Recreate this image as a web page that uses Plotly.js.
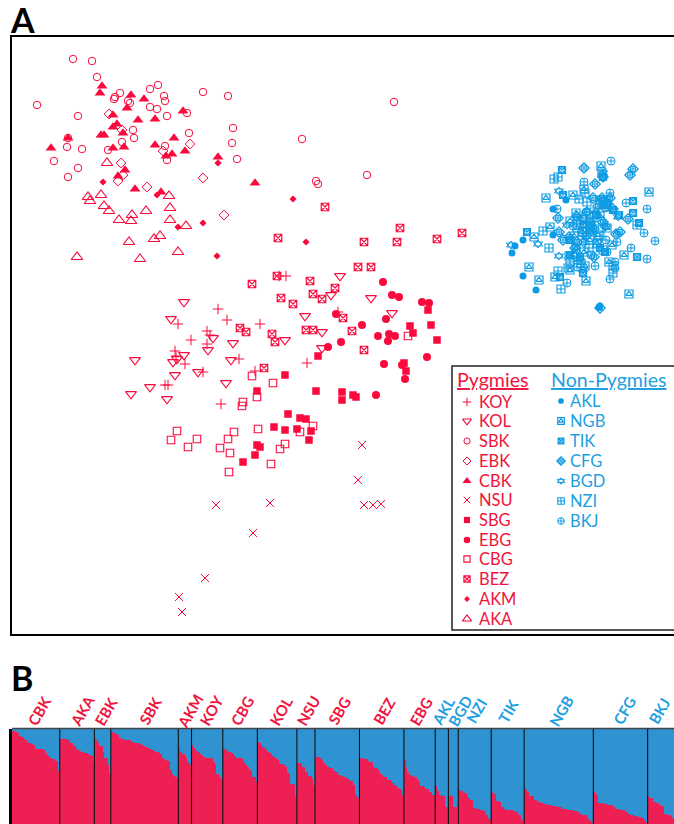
<!DOCTYPE html>
<html><head><meta charset="utf-8">
<script src="https://cdn.plot.ly/plotly-3.0.1.min.js"></script>
<style>html,body{margin:0;padding:0;background:#fff;overflow:hidden}</style></head>
<body><div id="chart" style="width:674px;height:824px"></div>
<script>
// Panel A: two ordination coordinates per individual
const KOY=[[286,276],[279,276],[218,309],[227,320],[178,324],[260,324],[207,331],[210,335],[191,340],[207,344],[175,351],[239,359],[185,364],[203,372],[255,371],[307,363],[165,385],[168,385],[221,404],[338,312],[176,356]];
const KOL=[[340,276],[331,295],[371,298],[305,316],[392,313],[184,302],[171,319],[322,332],[213,338],[285,340],[233,343],[208,350],[322,348],[184,355],[177,359],[173,362],[135,360],[231,360],[198,372],[175,375],[226,383],[150,387],[131,394],[167,399]];
const SBK=[[73,59],[92,61],[97,77],[37,105],[120,93],[115,97],[114,99],[128,101],[130,103],[150,89],[158,85],[164,96],[165,101],[150,107],[157,109],[167,116],[187,113],[203,92],[228,96],[78,116],[133,130],[134,138],[122,142],[233,128],[232,143],[189,133],[237,159],[67,147],[82,149],[108,150],[68,138],[54,161],[78,168],[68,177],[165,146],[167,160],[394,102],[302,139],[316,181],[318,184],[367,175]];
const EBK=[[109,114],[122,130],[190,144],[163,151],[121,163],[123,175],[118,181],[203,178],[147,187],[224,215]];
const CBK=[[102,86],[100,93],[131,95],[144,99],[127,108],[113,115],[138,120],[155,119],[183,111],[117,124],[113,127],[123,133],[101,135],[104,135],[68,138],[174,138],[51,148],[113,148],[124,147],[155,145],[185,151],[172,154],[166,156],[218,157],[125,170],[118,176],[135,189],[161,192],[255,183]];
const NSU=[[362,445],[358,480],[216,505],[270,503],[364,505],[373,505],[381,504],[253,533],[205,578],[179,597],[182,612]];
const SBG=[[428,310],[410,326],[431,325],[413,333],[437,340],[318,356],[404,363],[406,371],[285,375],[316,391],[257,391],[342,392],[342,400],[353,395],[356,397],[288,414],[300,418],[306,419],[274,427],[285,430],[297,429],[311,431],[309,440],[257,445],[260,447],[255,455],[243,462]];
const EBG=[[383,282],[392,295],[399,297],[422,302],[429,303],[386,319],[336,314],[362,325],[378,336],[389,334],[395,336],[388,341],[341,342],[328,347],[427,357],[384,364],[402,365],[405,379],[376,395]];
const CBG=[[408,336],[252,376],[273,383],[257,397],[243,402],[242,406],[313,426],[300,432],[177,431],[171,440],[197,439],[188,447],[234,432],[228,439],[258,429],[220,448],[230,453],[285,444],[280,449],[271,464],[229,472]];
const BEZ=[[278,238],[400,228],[364,242],[397,242],[437,239],[462,233],[325,207],[358,267],[371,267],[277,276],[252,284],[310,281],[335,288],[313,294],[322,299],[281,298],[293,304],[343,318],[240,328],[246,332],[272,334],[275,342],[306,330],[313,330],[352,331],[364,350],[264,368]];
const AKM=[[218,163],[103,182],[157,195],[178,227],[203,223],[217,256],[293,199],[306,242]];
const AKA=[[107,163],[88,197],[90,201],[101,195],[104,206],[109,211],[119,220],[132,215],[131,221],[146,211],[169,196],[170,208],[170,220],[186,226],[129,242],[154,239],[160,236],[178,252],[140,259],[77,257]];
const AKL=[[566,200],[553,209],[523,240],[515,246],[512,253],[523,276],[536,290],[553,235],[599,307],[600,306]];
const NGB=[[601,166],[602,173],[649,192],[546,198],[573,195],[584,189],[534,237],[550,227],[570,221],[576,213],[529,267],[539,280],[586,281],[629,294],[609,262],[624,255],[576,248],[598,235],[577,228],[555,277],[585,266],[607,228],[597,243],[600,200],[578,260],[590,225],[612,245],[582,232],[590,240],[584,252],[600,216],[574,236],[594,212],[581,263],[570,270],[603,250]];
const TIK=[[562,170],[633,201],[633,213],[639,223],[637,257],[527,232],[563,195],[603,177],[603,205],[590,230],[583,225],[560,277],[583,273],[570,240],[613,210],[600,248],[605,252],[619,215],[596,215],[580,257],[607,203],[570,255]];
const CFG=[[584,168],[633,169],[630,175],[595,184],[603,177],[558,218],[559,232],[616,234],[620,232],[584,242],[594,257],[569,237],[605,226],[628,219],[587,212],[593,198],[602,198],[613,209],[600,308],[577,242],[563,240],[607,203],[577,217],[590,222],[598,206],[586,236],[610,198],[575,248],[594,229],[603,222],[583,218]];
const BGD=[[559,191],[511,245],[538,244],[559,256],[575,255],[603,173],[603,200],[583,270],[618,217],[567,225],[592,232]];
const NZI=[[554,179],[558,177],[579,199],[543,231],[549,248],[587,202],[585,193],[569,256],[568,268],[561,289],[613,273],[597,244],[637,225],[577,220],[587,227],[590,222],[607,207],[558,271],[613,266],[583,232],[570,262],[600,236],[589,248]];
const BKJ=[[611,161],[584,182],[610,193],[626,203],[647,209],[644,233],[655,241],[631,248],[647,259],[615,262],[615,268],[610,279],[595,266],[567,283],[607,252],[557,209],[605,208],[595,225],[586,212],[577,267],[617,242],[597,215],[573,226],[606,240],[591,255]];

// Panel B: share of the pygmy cluster per individual (visible part of the bar)
const B_CBK=[98,98,97,96,93,93,92,90,88,86,85,85,84,83,79,79,79,79,79,78,75,73,72,69,68,68,66,66,56];
const B_AKA=[90,90,89,89,89,88,85,85,82,82,79,78,77,76,76,75,75,74,73,72,65];
const B_EBK=[91,88,85,82,82,76,70,70,62,53];
const B_SBK=[97,97,96,95,94,91,90,89,88,88,88,88,87,86,85,85,85,85,84,83,82,81,80,80,79,78,77,76,76,75,74,70,68,67,66,66,57,53,51,50,47];
const B_AKM=[81,76,74,74,71,66,64,62];
const B_KOY=[83,80,78,77,76,74,73,71,70,70,70,69,69,65,62,53,53,50,46];
const B_CBG=[80,79,78,76,76,75,74,72,70,70,69,69,66,64,62,60,57,56,50,50,44];
const B_KOL=[86,85,84,81,80,78,76,75,74,72,71,69,67,64,63,63,62,60,54,53,42,42,41,29];
const B_NSU=[64,64,64,60,60,55,55,51,51,48,41];
const B_SBG=[71,71,71,69,67,64,62,60,60,59,59,56,56,55,52,52,51,50,50,48,47,45,45,41,32,30,27];
const B_BEZ=[70,70,69,68,68,66,65,65,61,59,59,57,54,52,50,50,49,46,46,45,43,41,40,38,37,36,31];
const B_EBG=[67,60,55,52,52,51,49,49,46,44,40,40,39,37,37,34,34,31,31];
const B_AKL=[40,35,31,31,29,29,18,18];
const B_BGD=[30,29,29,18,18,1];
const B_NZI=[37,35,35,33,33,29,27,25,25,17,17,16,16,15,15,14,13,9,6,4];
const B_TIK=[34,32,32,24,24,23,18,18,16,15,15,15,15,14,14,13,11,9,4,2];
const B_NGB=[38,36,34,30,30,30,25,25,23,23,22,22,21,21,20,20,20,19,19,19,18,18,18,16,16,16,15,15,15,15,14,14,13,13,11,9,9,9,7,5,3,1];
const B_CFG=[34,32,30,22,22,22,21,21,21,20,20,20,18,16,16,16,15,15,15,13,13,11,10,9,9,8,8,7,7,6,6,4,1];
const B_BKJ=[29,27,27,23,23,22,22,20,19,19,11,11,9,9,8,6];

const RED='#FA0A3C', BLUE='#0C9BE4', TXTRED='#F0143C', TXTBLUE='#1E9FE2';
const BARRED='#EE1F52', BARBLUE='#2F93D2';
const W=674,H=824;

// symbol layers for every population
const pygStyles=[
 ['KOY',KOY,[['cross-thin-open',7.5,1]]],
 ['KOL',KOL,[['triangle-down-open',9.5,1.1]]],
 ['SBK',SBK,[['circle-open',7.5,1]]],
 ['EBK',EBK,[['diamond-open',7.5,1]]],
 ['CBK',CBK,[['triangle-up',9.5,0]]],
 ['NSU',NSU,[['x-thin-open',8,1]]],
 ['SBG',SBG,[['square',7.5,0]]],
 ['EBG',EBG,[['circle',8,0]]],
 ['CBG',CBG,[['square-open',7.5,1.1]]],
 ['BEZ',BEZ,[['square-x-open',7.5,1.2]]],
 ['AKM',AKM,[['diamond',5.5,0]]],
 ['AKA',AKA,[['triangle-up-open',10,1.1]]]];
const nonStyles=[
 ['AKL',AKL,[['circle',7,0]]],
 ['NGB',NGB,[['square-open',8,1.2],['triangle-up-open',5.5,1.1]]],
 ['TIK',TIK,[['square-x-open',7,1.2],['circle-open',5,1]]],
 ['CFG',CFG,[['diamond-open',8,1.2],['circle-cross-open',5.5,1]]],
 ['BGD',BGD,[['triangle-up-open',8,1],['triangle-down-open',8,1]]],
 ['NZI',NZI,[['square-cross-open',8,1.1]]],
 ['BKJ',BKJ,[['circle-cross-open',8,1]]]];

const traces=[];
function pts(name,color,xs,ys,layers,k){
  layers.forEach(l=>traces.push({type:'scatter',mode:'markers',name,x:xs,y:ys,xaxis:'x',yaxis:'y',showlegend:false,hoverinfo:'name',
    marker:{symbol:l[0],size:l[1]*(k||1),color,line:{color,width:l[2]}}}));
}
[[pygStyles,RED],[nonStyles,BLUE]].forEach(([st,c])=>st.forEach(s=>pts(s[0],c,s[1].map(p=>p[0]),s[1].map(p=>p[1]),s[2])));

// key inside panel A
const ann=[];
const rowsPyg=[402,421,441,461,481,500,520,540,559,579,599,619];
const rowsNon=[401,421,441,461,481,501,521];
function txt(x,y,text,color,size,extra){
  return Object.assign({xref:'x',yref:'y',x,y,text,showarrow:false,xanchor:'left',yanchor:'middle',
    font:{family:'Lato, Open Sans, sans-serif',size,color}},extra||{});
}
pygStyles.forEach((s,i)=>{
  pts(s[0],RED,[467],[rowsPyg[i]],s[2],0.82);
  ann.push(txt(477,rowsPyg[i],s[0],TXTRED,16.5));
});
nonStyles.forEach((s,i)=>{
  pts(s[0],BLUE,[561],[rowsNon[i]],s[2],0.82);
  ann.push(txt(568,rowsNon[i],s[0],TXTBLUE,16.5));
});
ann.push(txt(455,379,'<u>Pygmies</u>',TXTRED,19.6));
ann.push(txt(549,379,'<u>Non-Pygmies</u>',TXTBLUE,19.6));

// Panel B bars
const groups=[['CBK',B_CBK,39,1],['AKA',B_AKA,82,1],['EBK',B_EBK,106,1],['SBK',B_SBK,150,1],['AKM',B_AKM,190,1],['KOY',B_KOY,211,1],['CBG',B_CBG,242,1],['KOL',B_KOL,281,1],['NSU',B_NSU,308,1],['SBG',B_SBG,339,1],['BEZ',B_BEZ,384,1],['EBG',B_EBG,421,1],['AKL',B_AKL,443,0],['BGD',B_BGD,460,0],['NZI',B_NZI,476,0],['TIK',B_TIK,508,0],['NGB',B_NGB,561,0],['CFG',B_CFG,624,0],['BKJ',B_BKJ,659,0]];
const bx=[],red=[],blue=[],seps=[];let n=0;
groups.forEach(g=>{g[1].forEach(v=>{bx.push(n+0.5);red.push(v);blue.push(100-v);n++;});seps.push(n);});
traces.push({type:'bar',x:bx,y:red,xaxis:'x2',yaxis:'y2',width:1,marker:{color:BARRED,line:{width:0}},showlegend:false,name:'Pygmy cluster'});
traces.push({type:'bar',x:bx,y:blue,xaxis:'x2',yaxis:'y2',width:1,marker:{color:BARBLUE,line:{width:0}},showlegend:false,name:'Non-pygmy cluster'});

const shapes=[
 {type:'rect',xref:'x',yref:'y',x0:452,x1:690,y0:366,y1:630,line:{color:'#222',width:1.5},fillcolor:'#fff',layer:'below'},
 {type:'line',xref:'paper',yref:'paper',x0:12/W,x1:1,y0:1-728.5/H,y1:1-728.5/H,line:{color:'#444',width:1.5}}
];
seps.slice(0,-1).forEach(s=>shapes.push({type:'line',xref:'x2',yref:'y2',x0:s,x1:s,y0:0,y1:100,line:{color:'#111',width:1.1}}));

groups.forEach(g=>ann.push({xref:'paper',yref:'paper',x:g[2]/W,y:1-711/H,text:'<b>'+g[0]+'</b>',showarrow:false,textangle:-60,xanchor:'center',yanchor:'middle',
  font:{family:'Lato, Open Sans, sans-serif',size:15,color:g[3]?TXTRED:TXTBLUE}}));
ann.push({xref:'paper',yref:'paper',x:8/W,y:1-19/H,text:'<b>A</b>',showarrow:false,xanchor:'left',yanchor:'middle',font:{family:'Lato, Open Sans, sans-serif',size:34,color:'#000'}});
ann.push({xref:'paper',yref:'paper',x:9/W,y:1-677/H,text:'<b>B</b>',showarrow:false,xanchor:'left',yanchor:'middle',font:{family:'Lato, Open Sans, sans-serif',size:34,color:'#000'}});

const layout={width:W,height:H,margin:{l:0,r:0,t:0,b:0},paper_bgcolor:'#fff',plot_bgcolor:'#fff',showlegend:false,barmode:'stack',bargap:0,
 xaxis:{domain:[12/W,1],range:[12,W],showgrid:false,zeroline:false,showticklabels:false,ticks:'',showline:true,mirror:true,linecolor:'#000',linewidth:2},
 yaxis:{domain:[1-634/H,1-37/H],range:[634,37],showgrid:false,zeroline:false,showticklabels:false,ticks:'',showline:true,linecolor:'#000',linewidth:2},
 xaxis2:{domain:[12/W,1],range:[0,n],anchor:'y2',showgrid:false,zeroline:false,showticklabels:false,ticks:''},
 yaxis2:{domain:[0,1-729/H],range:[0,100],anchor:'x2',showgrid:false,zeroline:false,showticklabels:false,ticks:'',showline:true,linecolor:'#000',linewidth:3},
 shapes,annotations:ann};
Plotly.newPlot('chart',traces,layout,{displayModeBar:false,staticPlot:true});
</script></body></html>
